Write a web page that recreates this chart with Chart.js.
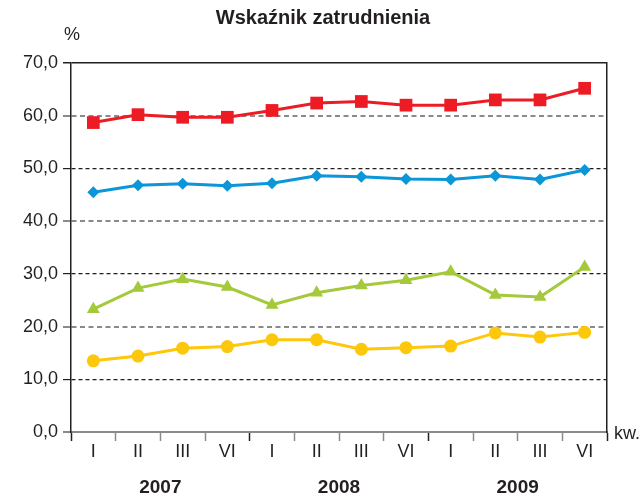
<!DOCTYPE html>
<html>
<head>
<meta charset="utf-8">
<script src="https://cdn.jsdelivr.net/npm/chart.js@4/dist/chart.umd.min.js"></script>
<style>
html,body{margin:0;padding:0;background:#fff;}
#wrap{width:644px;height:495px;position:relative;}
</style>
</head>
<body>
<div id="wrap"><canvas id="c" width="644" height="495"></canvas></div>
<script>
const title = 'Wskaźnik zatrudnienia';
const unitLabel = '%';
const axisSuffix = 'kw.';
const quarters = ['I','II','III','VI','I','II','III','VI','I','II','III','VI'];
const years = ['2007','2008','2009'];
const yTicks = [0,10,20,30,40,50,60,70];
const seriesRed = [58.7, 60.2, 59.7, 59.7, 61.0, 62.4, 62.7, 62.0, 62.0, 63.0, 63.0, 65.2];
const seriesBlue = [45.5, 46.8, 47.1, 46.7, 47.2, 48.6, 48.4, 48.0, 47.9, 48.6, 47.9, 49.7];
const seriesGreen = [23.3, 27.3, 29.0, 27.5, 24.1, 26.4, 27.8, 28.8, 30.4, 26.0, 25.6, 31.3];
const seriesYellow = [13.5, 14.4, 15.9, 16.2, 17.5, 17.5, 15.7, 16.0, 16.3, 18.8, 18.0, 18.9];

const FONT = '"Liberation Sans", Arial, sans-serif';
const TXT = '#231f20';

function ds(data, color, style, radius){
  return {data, borderColor: color, backgroundColor: color, borderWidth: 3,
    pointStyle: style, pointRadius: radius, pointHoverRadius: radius,
    pointBorderWidth: 0, tension: 0, clip: false};
}

const textPlugin = {
  id: 'texts',
  afterDraw(chart){
    const ctx = chart.ctx;
    const xs = chart.scales.x;
    ctx.save();
    ctx.fillStyle = TXT;
    ctx.textAlign = 'center';
    ctx.textBaseline = 'middle';
    ctx.font = 'bold 20px ' + FONT;
    ctx.fillText(title, 323, 18);
    ctx.font = '18px ' + FONT;
    ctx.textAlign = 'left';
    ctx.fillText(unitLabel, 64, 35);
    ctx.fillText(axisSuffix, 614, 434);
    ctx.textAlign = 'center';
    ctx.font = 'bold 19px ' + FONT;
    years.forEach((y, i) => {
      const px = xs.getPixelForValue(i * 4 + 1.5);
      ctx.fillText(y, px, 488);
    });
    ctx.restore();
  }
};

new Chart(document.getElementById('c'), {
  type: 'line',
  data: {
    labels: quarters,
    datasets: [
      ds(seriesYellow, '#fdc70c', 'circle', 6.5),
      ds(seriesGreen, '#a4c93a', 'triangle', 7.5),
      ds(seriesBlue, '#0a96d8', 'rectRot', 6),
      ds(seriesRed, '#ed1c24', 'rect', 9)
    ]
  },
  options: {
    responsive: false,
    animation: false,
    events: [],
    layout: {padding: {left: 0, right: 0, top: 63, bottom: 0}},
    plugins: {legend: {display: false}, tooltip: {enabled: false}, title: {display: false}},
    scales: {
      x: {
        type: 'category',
        offset: true,
        grid: {
          offset: true,
          drawOnChartArea: false,
          drawTicks: true,
          tickLength: 9,
          tickWidth: 1.5,
          tickColor: (c) => (c.index === undefined || c.index % 4 === 0) ? '#231f20' : '#8a8a8a'
        },
        border: {display: true, color: '#8a8a8a', width: 2},
        ticks: {font: {family: FONT, size: 18}, color: TXT, padding: 0, maxRotation: 0, autoSkip: false},
        afterFit(s){ s.height = 63; }
      },
      y: {
        min: 0, max: 70,
        afterBuildTicks(s){ s.ticks = yTicks.map(v => ({value: v})); },
        ticks: {
          font: {family: FONT, size: 18}, color: TXT, padding: 5,
          callback: (v) => v.toFixed(1).replace('.', ',')
        },
        grid: {
          drawTicks: true,
          tickLength: 8,
          color: (c) => {
            const v = c.tick ? c.tick.value : null;
            if (v === 70) return '#231f20';
            if (v === 0) return '#8a8a8a';
            return (v / 10) % 2 === 0 ? '#8a8a8a' : '#231f20';
          },
          lineWidth: (c) => {
            const v = c.tick ? c.tick.value : null;
            if (v === 70) return 1.5;
            if (v === 0) return 2;
            return (v / 10) % 2 === 0 ? 2 : 1.2;
          },
          tickColor: (c) => {
            const v = c.tick ? c.tick.value : null;
            if (v === 70) return '#231f20';
            return (v / 10) % 2 === 0 ? '#8a8a8a' : '#231f20';
          },
          tickBorderDash: []
        },
        border: {
          display: true, color: '#231f20', width: 1.5,
          dash: (c) => {
            const v = c.tick ? c.tick.value : null;
            if (v === null || v === 0 || v === 70) return [];
            return (v / 10) % 2 === 0 ? [5, 3.5] : [4, 3];
          }
        },
        afterFit(s){ s.width = 71; }
      },
      y2: {
        position: 'right',
        min: 0, max: 70,
        ticks: {display: false},
        grid: {display: false, drawTicks: false},
        border: {display: true, color: '#231f20', width: 1.5},
        afterFit(s){ s.width = 37; }
      }
    }
  },
  plugins: [textPlugin]
});
</script>
</body>
</html>
